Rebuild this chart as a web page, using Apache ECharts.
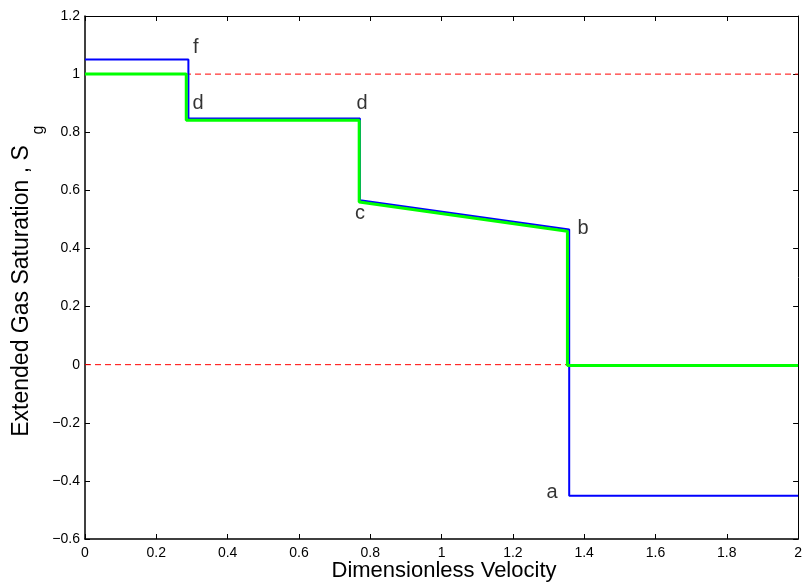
<!DOCTYPE html>
<html>
<head>
<meta charset="utf-8">
<script src="https://cdn.jsdelivr.net/npm/echarts@6/dist/echarts.min.js"></script>
<style>html,body{margin:0;padding:0;background:#fff;}#c{width:805px;height:588px;}</style>
</head>
<body>
<div id="c"></div>
<script>
// Data
var blueX = [0, 0.29, 0.29, 0.771, 0.771, 1.358, 1.358, 2];
var blueY = [1.05, 1.05, 0.847, 0.847, 0.566, 0.465, -0.451, -0.451];
var greenX = [0, 0.284, 0.284, 0.769, 0.769, 1.353, 1.353, 2];
var greenY = [1.0, 1.0, 0.841, 0.841, 0.56, 0.459, -0.003, -0.003];
var refLevels = [1, 0];
var refX = [0, 2];
var labelText = ['f', 'd', 'd', 'c', 'b', 'a'];
var labelX = [0.311, 0.317, 0.777, 0.771, 1.397, 1.31];
var labelY = [1.09, 0.899, 0.899, 0.521, 0.470, -0.441];
var xTitle = 'Dimensionless Velocity';
var yTitle = 'Extended Gas Saturation , S';
var yTitleSub = 'g';

function pairs(xs, ys) { return xs.map(function (x, i) { return [x, ys[i]]; }); }
function fmt(v) {
  var s = String(Math.round(v * 10) / 10);
  return s.replace('-', '\u2212');
}
var FONT = 'Liberation Sans, Arial, Helvetica, sans-serif';

var series = [];
refLevels.forEach(function (lv) {
  series.push({
    type: 'line', xAxisIndex: 0, yAxisIndex: 0, showSymbol: false, silent: true,
    data: refX.map(function (x) { return [x, lv]; }),
    lineStyle: { color: '#ff0000', width: 1, type: [6, 4] }, z: 1
  });
});
series.push({
  type: 'line', showSymbol: false, data: pairs(blueX, blueY),
  lineStyle: { color: '#0000ff', width: 2 }, z: 2
});
series.push({
  type: 'line', showSymbol: false, data: pairs(greenX, greenY),
  lineStyle: { color: '#00ff00', width: 3 }, z: 3
});
series.push({
  type: 'scatter', symbolSize: 0, z: 4,
  data: labelText.map(function (t, i) { return { name: t, value: [labelX[i], labelY[i]] }; }),
  label: { show: true, position: 'inside', formatter: '{b}', color: '#000', fontSize: 20, fontFamily: FONT }
});

function axisCommon(w) {
  return {
    axisLine: { show: true, onZero: false, lineStyle: { color: '#000', width: w } },
    axisTick: { show: true, inside: true, length: 5, lineStyle: { color: '#000' } },
    splitLine: { show: false }
  };
}

var chart = echarts.init(document.getElementById('c'), null, { renderer: 'canvas' });
chart.setOption({
  animation: false,
  backgroundColor: '#fff',
  grid: { left: 85, right: 6, top: 16, bottom: 49, containLabel: false },
  xAxis: [
    Object.assign({
      type: 'value', min: 0, max: 2, interval: 0.2, position: 'bottom',
      axisLabel: { margin: 7, color: '#000', fontSize: 14, fontFamily: FONT, formatter: fmt, showMinLabel: true, showMaxLabel: true, hideOverlap: false }
    }, axisCommon(1.5)),
    Object.assign({
      type: 'value', min: 0, max: 2, interval: 0.2, position: 'top',
      axisLabel: { show: false }
    }, axisCommon(1))
  ],
  yAxis: [
    Object.assign({
      type: 'value', min: -0.6, max: 1.2, interval: 0.2, position: 'left',
      axisLabel: { margin: 5, color: '#000', fontSize: 14, fontFamily: FONT, formatter: fmt, showMinLabel: true, showMaxLabel: true }
    }, axisCommon(1.5)),
    Object.assign({
      type: 'value', min: -0.6, max: 1.2, interval: 0.2, position: 'right',
      axisLabel: { show: false }
    }, axisCommon(1))
  ],
  graphic: [
    { type: 'text', x: 444, y: 571,
      style: { text: xTitle, fill: '#000', font: '22px ' + FONT, align: 'center', verticalAlign: 'middle' } },
    { type: 'text', x: 22, y: 291, rotation: Math.PI / 2,
      style: { text: yTitle, fill: '#000', font: '23px ' + FONT, align: 'center', verticalAlign: 'middle' } },
    { type: 'text', x: 39, y: 130, rotation: Math.PI / 2,
      style: { text: yTitleSub, fill: '#000', font: '16px ' + FONT, align: 'center', verticalAlign: 'middle' } }
  ],
  series: series
});
</script>
</body>
</html>
